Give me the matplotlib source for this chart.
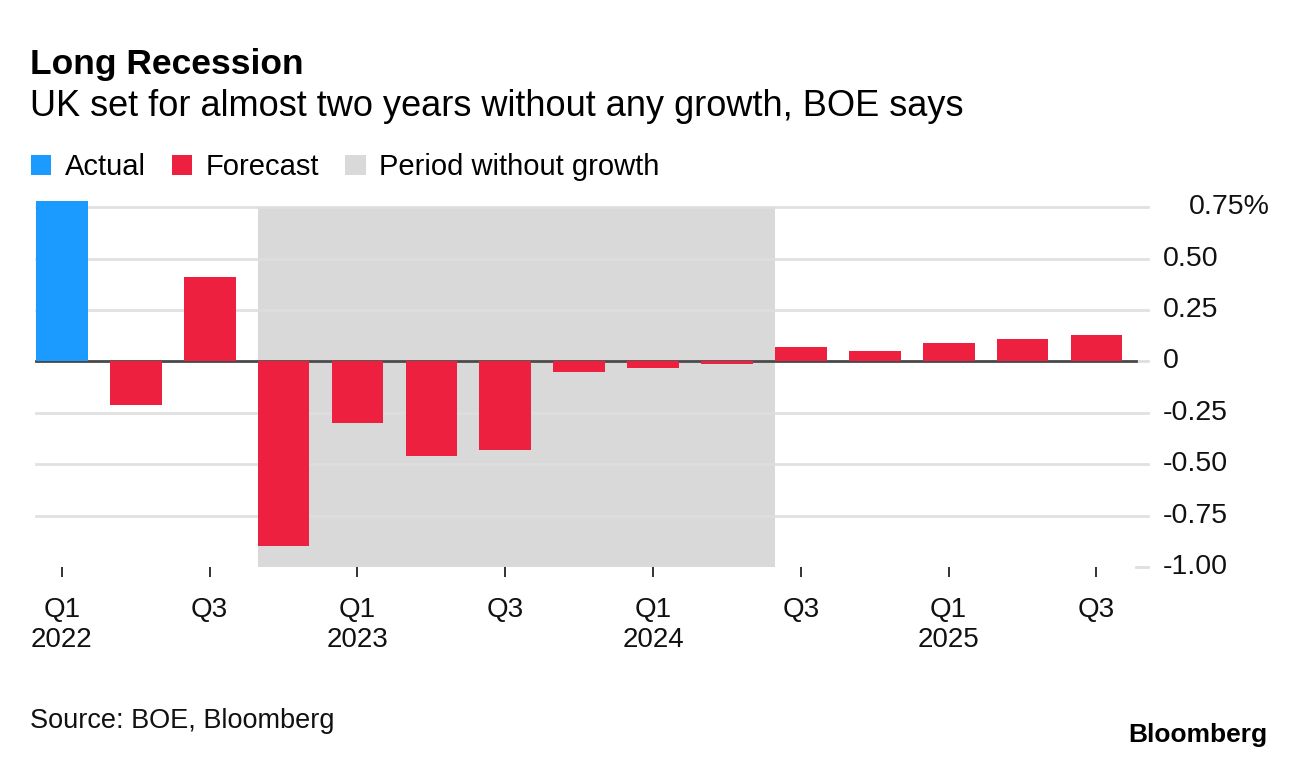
import matplotlib
matplotlib.use("Agg")
import matplotlib.pyplot as plt
from matplotlib.patches import Patch

# ---- data ----
quarters = ["Q1 2022", "Q2 2022", "Q3 2022", "Q4 2022",
            "Q1 2023", "Q2 2023", "Q3 2023", "Q4 2023",
            "Q1 2024", "Q2 2024", "Q3 2024", "Q4 2024",
            "Q1 2025", "Q2 2025", "Q3 2025"]
growth = [0.78, -0.21, 0.41, -0.90,
          -0.30, -0.46, -0.43, -0.05,
          -0.03, -0.015, 0.07, 0.05,
          0.09, 0.11, 0.13]
is_actual = [True] + [False] * 14
shade_start = "Q4 2022"
shade_end = "Q3 2024"
yticks = [0.75, 0.50, 0.25, 0.0, -0.25, -0.50, -0.75, -1.00]
ytick_labels = ["0.75%", "0.50", "0.25", "0", "-0.25", "-0.50", "-0.75", "-1.00"]
xtick_quarters = ["Q1 2022", "Q3 2022", "Q1 2023", "Q3 2023",
                  "Q1 2024", "Q3 2024", "Q1 2025", "Q3 2025"]
xtick_labels = ["Q1\n2022", "Q3", "Q1\n2023", "Q3",
                "Q1\n2024", "Q3", "Q1\n2025", "Q3"]

title = "Long Recession"
subtitle = "UK set for almost two years without any growth, BOE says"
source = "Source: BOE, Bloomberg"

BLUE = "#1B9BFF"
RED = "#ED213F"
SHADE = "#D9D9D9"
GRID = "#DEDEDE"

plt.rcParams["font.family"] = ["Liberation Sans", "DejaVu Sans"]

W, H = 1296, 760
fig = plt.figure(figsize=(W / 100, H / 100), dpi=100)
ax_left, ax_right, ax_top, ax_bot = 36, 1136, 199, 567
ax = fig.add_axes([ax_left / W, 1 - ax_bot / H, (ax_right - ax_left) / W, (ax_bot - ax_top) / H])

x = list(range(len(quarters)))
bw = 0.7
colors = [BLUE if a else RED for a in is_actual]
ax.bar(x, growth, width=bw, color=colors, zorder=3, linewidth=0)

# shaded period
i0 = quarters.index(shade_start) - bw / 2
i1 = quarters.index(shade_end) - bw / 2
ax.fill_between([i0, i1], -1.0, 0.75, color=SHADE, linewidth=0, zorder=0)

ax.set_xlim(-bw / 2, -bw / 2 + (ax_right - ax_left) / 73.9)
ax.set_ylim(-1.0, 0.79)

# gridlines
ext = 1 + 12 / (ax_right - ax_left)
ytr = ax.get_yaxis_transform()
for y in yticks:
    if y == -1.0:
        ax.plot([1, ext], [y, y], transform=ytr, color=GRID, lw=2, clip_on=False, zorder=1)
    else:
        ax.plot([0, ext], [y, y], transform=ytr, color=GRID, lw=2, clip_on=False, zorder=1,
                alpha=0.9 if y != 0 else 1)
ax.plot([0, 1], [0, 0], transform=ytr, color="#4a4a4a", lw=2, clip_on=False, zorder=2)

# y labels on right
for y, lab in zip(yticks, ytick_labels):
    xpos = (1189 - ax_left) / (ax_right - ax_left) if lab.endswith("%") else (1163 - ax_left) / (ax_right - ax_left)
    ax.text(xpos, y, lab, transform=ytr, ha="left", va="center", fontsize=20.5, color="#111111")

ax.set_yticks([])
ax.set_xticks([quarters.index(q) for q in xtick_quarters])
ax.set_xticklabels(xtick_labels, fontsize=20, color="#111111", linespacing=1.22)
ax.tick_params(axis="x", length=7.5, width=1.3, color="#222222", pad=14, direction="out")
for s in ax.spines.values():
    s.set_visible(False)

# titles
fig.text(30 / W, 1 - 74 / H, title, fontsize=25.5, fontweight="bold", ha="left", va="baseline", color="#000000")
fig.text(30 / W, 1 - 116 / H, subtitle, fontsize=26, ha="left", va="baseline", color="#000000")

handles = [Patch(facecolor=BLUE, edgecolor="none", label="Actual"),
           Patch(facecolor=RED, edgecolor="none", label="Forecast"),
           Patch(facecolor=SHADE, edgecolor="none", label="Period without growth")]
fig.legend(handles=handles, loc="lower left", bbox_to_anchor=(31 / W, 1 - 181 / H), ncol=3,
           frameon=False, fontsize=21, handlelength=0.7, handleheight=0.7,
           handletextpad=0.45, columnspacing=0.9, borderaxespad=0, borderpad=0)

fig.text(30 / W, 1 - 728 / H, source, fontsize=19.5, ha="left", va="baseline", color="#111111")
fig.text(1267 / W, 1 - 742 / H, "Bloomberg", fontsize=19, fontweight="bold", ha="right", va="baseline", color="#000000")

fig.savefig("out.png", dpi=100)
